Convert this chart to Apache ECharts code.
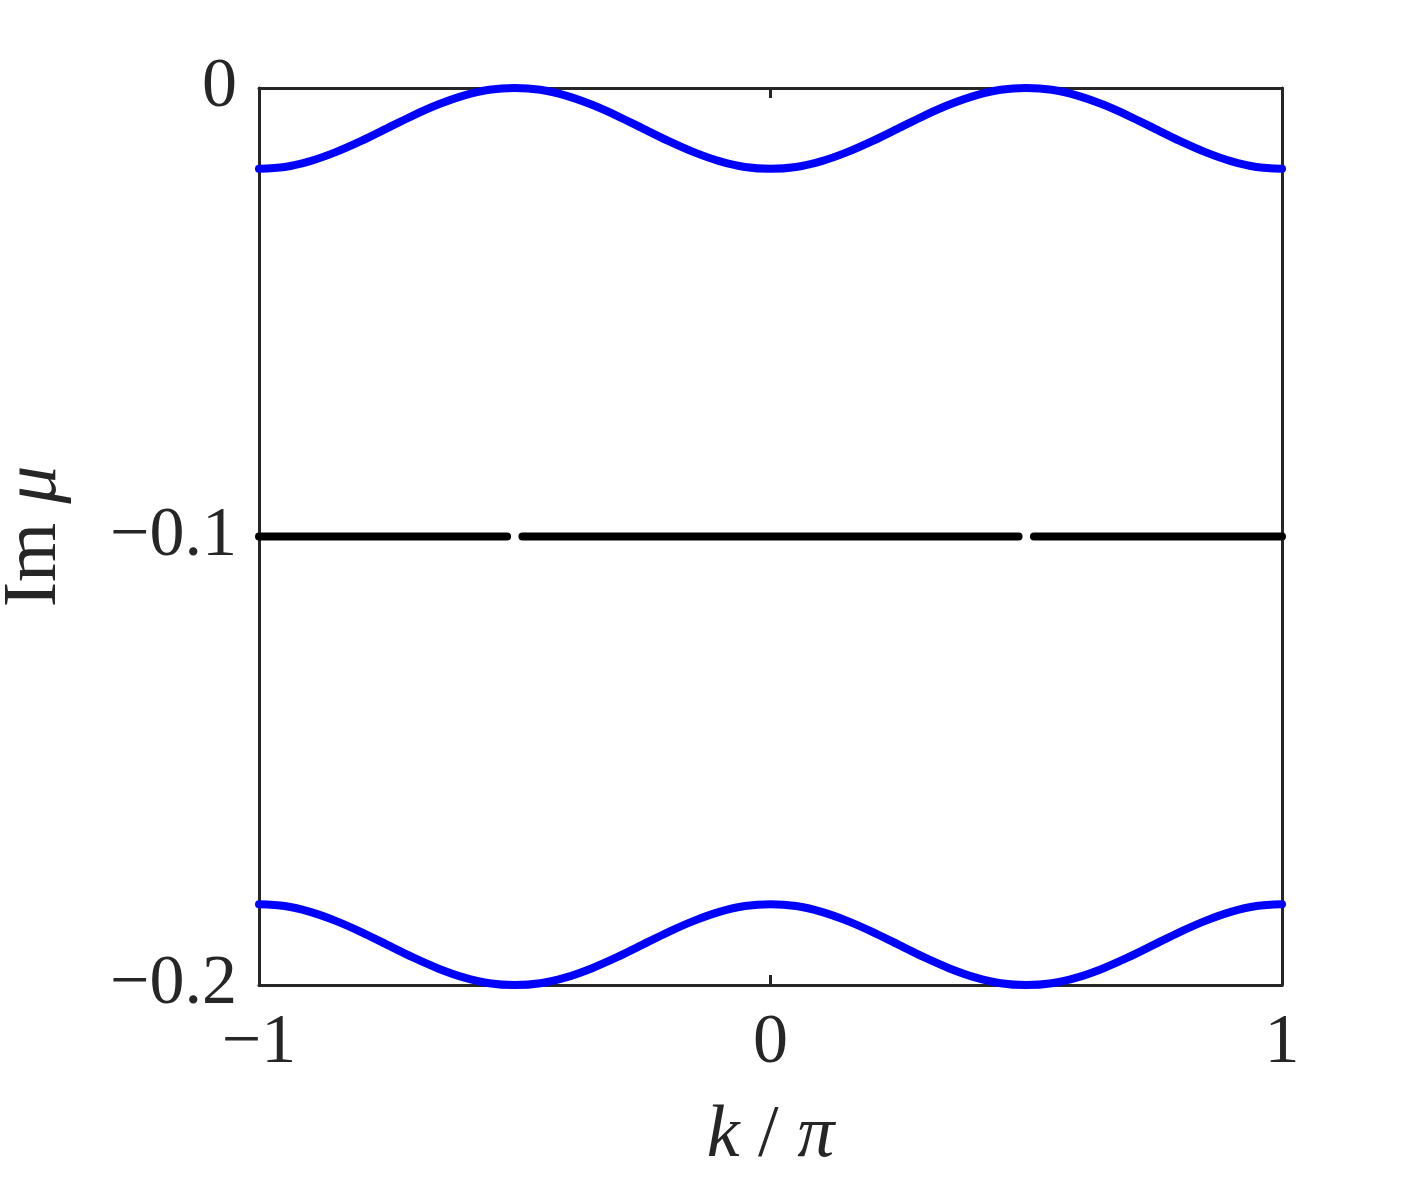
<!DOCTYPE html>
<html>
<head>
<meta charset="utf-8">
<script src="https://cdn.jsdelivr.net/npm/echarts@6/dist/echarts.min.js"></script>
<style>
  html, body { margin: 0; padding: 0; background: #fff; }
  #chart { width: 1417px; height: 1181px; }
</style>
</head>
<body>
<div id="chart"></div>
<script>
// k / pi sample points
var kValues = [
  -1.00, -0.95, -0.90, -0.85, -0.80, -0.75, -0.70, -0.65, -0.60, -0.55,
  -0.50, -0.45, -0.40, -0.35, -0.30, -0.25, -0.20, -0.15, -0.10, -0.05,
   0.00,  0.05,  0.10,  0.15,  0.20,  0.25,  0.30,  0.35,  0.40,  0.45,
   0.50,  0.55,  0.60,  0.65,  0.70,  0.75,  0.80,  0.85,  0.90,  0.95, 1.00
];
// upper blue band (Im mu)
var upperBand = [
  -0.0180, -0.0176, -0.0163, -0.0143, -0.0118, -0.0090, -0.0062, -0.0037, -0.0017, -0.0004,
   0.0000, -0.0004, -0.0017, -0.0037, -0.0062, -0.0090, -0.0118, -0.0143, -0.0163, -0.0176,
  -0.0180, -0.0176, -0.0163, -0.0143, -0.0118, -0.0090, -0.0062, -0.0037, -0.0017, -0.0004,
   0.0000, -0.0004, -0.0017, -0.0037, -0.0062, -0.0090, -0.0118, -0.0143, -0.0163, -0.0176, -0.0180
];
// lower blue band
var lowerBand = [
  -0.1820, -0.1824, -0.1837, -0.1857, -0.1882, -0.1910, -0.1938, -0.1963, -0.1983, -0.1996,
  -0.2000, -0.1996, -0.1983, -0.1963, -0.1938, -0.1910, -0.1882, -0.1857, -0.1837, -0.1824,
  -0.1820, -0.1824, -0.1837, -0.1857, -0.1882, -0.1910, -0.1938, -0.1963, -0.1983, -0.1996,
  -0.2000, -0.1996, -0.1983, -0.1963, -0.1938, -0.1910, -0.1882, -0.1857, -0.1837, -0.1824, -0.1820
];
// flat black band, broken near k = +-0.5
var flatK = [-1, -0.515, -0.5, -0.485, 0.485, 0.5, 0.515, 1];
var flatBand = [-0.1, -0.1, '-', -0.1, -0.1, '-', -0.1, -0.1];

function pairs (xs, ys) {
  return xs.map(function (x, i) { return [x, ys[i]]; });
}
function fmt (v) {
  if (v === 0) return '0';
  return (v < 0 ? '\u2212' : '') + String(Math.abs(+v.toFixed(2)));
}

var font = 'Liberation Serif';
var axisColor = '#262626';

var chart = echarts.init(document.getElementById('chart'));
var option = {
  backgroundColor: '#fff',
  animation: false,
  grid: { left: 259, top: 88, right: 135, bottom: 196, outerBoundsMode: 'none', containLabel: false },
  xAxis: [
    {
      type: 'value', min: -1, max: 1, interval: 1,
      position: 'bottom',
      axisLine: { show: true, onZero: false, lineStyle: { color: axisColor, width: 3 } },
      axisTick: { show: true, inside: true, length: 10, lineStyle: { color: axisColor, width: 3 } },
      splitLine: { show: false },
      axisLabel: { color: axisColor, fontFamily: font, fontSize: 70, margin: 24, formatter: fmt },
      name: '{i|k}{n| / }{i|\u03c0}',
      nameLocation: 'middle',
      nameGap: 115,
      nameTextStyle: {
        rich: {
          i: { fontFamily: font, fontStyle: 'italic', fontSize: 74, color: axisColor },
          n: { fontFamily: font, fontSize: 74, color: axisColor }
        }
      }
    },
    {
      type: 'value', min: -1, max: 1, interval: 1,
      position: 'top',
      axisLine: { show: true, onZero: false, lineStyle: { color: axisColor, width: 3 } },
      axisTick: { show: true, inside: true, length: 10, lineStyle: { color: axisColor, width: 3 } },
      axisLabel: { show: false },
      splitLine: { show: false }
    }
  ],
  yAxis: [
    {
      type: 'value', min: -0.2, max: 0, interval: 0.1,
      position: 'left',
      axisLine: { show: true, onZero: false, lineStyle: { color: axisColor, width: 3 } },
      axisTick: { show: true, inside: true, length: 10, lineStyle: { color: axisColor, width: 3 } },
      splitLine: { show: false },
      axisLabel: { color: axisColor, fontFamily: font, fontSize: 70, margin: 22, formatter: fmt },
      name: '{n|Im }{i|\u03bc}',
      nameLocation: 'middle',
      nameRotate: 90,
      nameGap: 186,
      nameTextStyle: {
        rich: {
          i: { fontFamily: font, fontStyle: 'italic', fontSize: 76, color: axisColor },
          n: { fontFamily: font, fontSize: 76, color: axisColor }
        }
      }
    },
    {
      type: 'value', min: -0.2, max: 0, interval: 0.1,
      position: 'right',
      axisLine: { show: true, onZero: false, lineStyle: { color: axisColor, width: 3 } },
      axisTick: { show: true, inside: true, length: 10, lineStyle: { color: axisColor, width: 3 } },
      axisLabel: { show: false },
      splitLine: { show: false }
    }
  ],
  series: [
    {
      name: 'upper', type: 'line', data: pairs(kValues, upperBand),
      smooth: 0.3, showSymbol: false, clip: false,
      lineStyle: { color: '#0000ff', width: 8, cap: 'round', join: 'round' }
    },
    {
      name: 'lower', type: 'line', data: pairs(kValues, lowerBand),
      smooth: 0.3, showSymbol: false, clip: false,
      lineStyle: { color: '#0000ff', width: 8, cap: 'round', join: 'round' }
    },
    {
      name: 'flat', type: 'line', data: pairs(flatK, flatBand),
      showSymbol: false, clip: false, connectNulls: false,
      lineStyle: { color: '#000000', width: 8, cap: 'round' }
    }
  ]
};
chart.setOption(option);
</script>
</body>
</html>
